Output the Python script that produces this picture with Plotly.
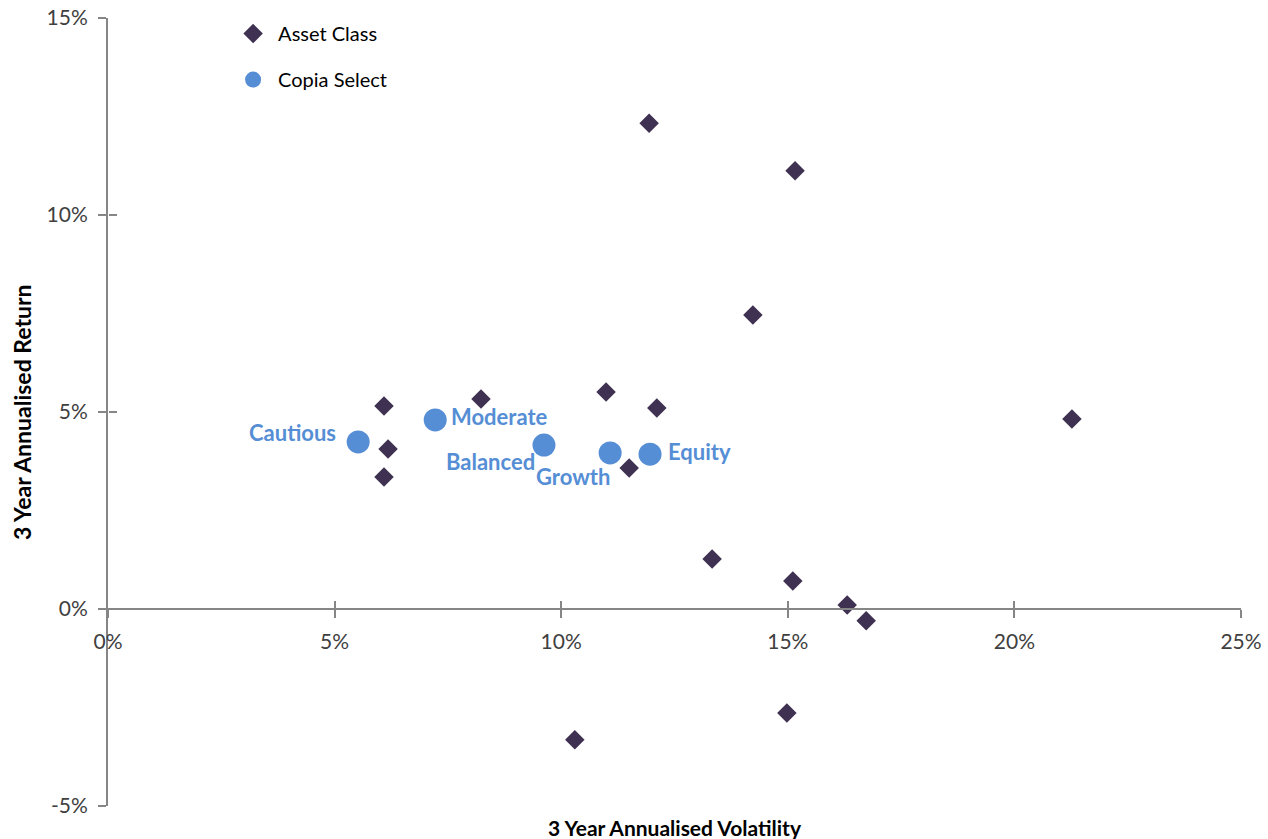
import plotly.graph_objects as go

# Asset class points (volatility %, return %)
asset_vol = [11.94, 15.16, 14.23, 6.09, 8.23, 10.99, 12.11, 6.18, 6.09, 11.50, 21.27, 13.33, 15.11, 16.31, 16.73, 14.98, 10.30]
asset_ret = [12.33, 11.12, 7.46, 5.15, 5.33, 5.51, 5.10, 4.06, 3.35, 3.58, 4.82, 1.27, 0.71, 0.10, -0.30, -2.64, -3.32]

# Copia Select portfolios
copia_names = ["Cautious", "Moderate", "Balanced", "Growth", "Equity"]
copia_vol = [5.52, 7.22, 9.62, 11.08, 11.96]
copia_ret = [4.24, 4.80, 4.16, 3.96, 3.93]

x_ticks = [0, 5, 10, 15, 20, 25]
y_ticks = [-5, 0, 5, 10, 15]

# label placement (style)
label_anchor = ["right", "left", "right", "right", "left"]
label_dx = [-20, 14, -7, 2, 16]
label_dy = [9, 3, -16, -24, 3]

FONT = "Lato"
AXIS_COL = "#868686"
DIAMOND = "#3F3151"
CIRCLE = "#558ED5"

fig = go.Figure()
fig.add_trace(go.Scatter(
    x=[v / 100 for v in asset_vol], y=[v / 100 for v in asset_ret],
    mode="markers", name="Asset Class", legendgroup="a",
    marker=dict(symbol="diamond", size=15, color=DIAMOND),
))
fig.add_trace(go.Scatter(
    x=[v / 100 for v in copia_vol], y=[v / 100 for v in copia_ret],
    mode="markers", name="Copia Select", legendgroup="b",
    marker=dict(symbol="circle", size=23, color=CIRCLE),
))
# invisible trace to activate overlay axes (for crossing tick marks)
fig.add_trace(go.Scatter(x=[0.001], y=[0.001], xaxis="x2", yaxis="y2", mode="markers",
                         marker=dict(opacity=0), showlegend=False, hoverinfo="skip"))

for n, vx, vy, a, dx, dy in zip(copia_names, copia_vol, copia_ret, label_anchor, label_dx, label_dy):
    fig.add_annotation(x=vx / 100, y=vy / 100, text="<b>%s</b>" % n, showarrow=False,
                       xanchor=a, yanchor="middle", xshift=dx, yshift=dy,
                       font=dict(family=FONT, size=22, color=CIRCLE))

tick_font = dict(family=FONT, size=21, color="#404040")
xr = [0, 0.25]
yr = [-0.05, 0.15]
fig.update_layout(
    width=1268, height=839,
    margin=dict(l=108, r=27, t=18, b=33, autoexpand=False),
    paper_bgcolor="white", plot_bgcolor="white",
    showlegend=True,
    legend=dict(x=0.106, y=1.005, xanchor="left", yanchor="top",
                font=dict(family=FONT, size=20, color="#000000"),
                tracegroupgap=17, bgcolor="rgba(0,0,0,0)", itemwidth=40),
    xaxis=dict(range=xr, tickvals=[v / 100 for v in x_ticks],
               ticktext=["%d%%" % v for v in x_ticks],
               anchor="free", position=0.25, automargin=False,
               showline=True, linecolor=AXIS_COL, linewidth=2,
               ticks="outside", ticklen=8, tickwidth=2, tickcolor=AXIS_COL,
               ticklabelstandoff=6,
               showgrid=False, zeroline=False, tickfont=tick_font),
    yaxis=dict(range=yr, tickvals=[v / 100 for v in y_ticks],
               ticktext=["%d%%" % v for v in y_ticks], automargin=False,
               showline=True, linecolor=AXIS_COL, linewidth=2,
               ticks="outside", ticklen=8, tickwidth=2, tickcolor=AXIS_COL,
               ticklabelstandoff=6,
               showgrid=False, zeroline=False, tickfont=tick_font),
    xaxis2=dict(range=xr, tickvals=[v / 100 for v in x_ticks], overlaying="x",
                anchor="free", position=0.25, showticklabels=False, automargin=False,
                ticks="inside", ticklen=8, tickwidth=2, tickcolor=AXIS_COL,
                showgrid=False, zeroline=False, showline=False),
    yaxis2=dict(range=yr, tickvals=[v / 100 for v in y_ticks], overlaying="y",
                anchor="free", position=0, side="left", showticklabels=False, automargin=False,
                ticks="inside", ticklen=8, tickwidth=2, tickcolor=AXIS_COL,
                showgrid=False, zeroline=False, showline=False),
)
fig.add_annotation(x=0.5, y=0, xref="paper", yref="paper", xanchor="center", yanchor="top",
                   yshift=-7, showarrow=False, text="<b>3 Year Annualised Volatility</b>",
                   font=dict(family=FONT, size=21, color="#000000"))
fig.add_annotation(x=0, y=0.5, xref="paper", yref="paper", xanchor="center", yanchor="middle",
                   xshift=-86, textangle=-90, showarrow=False, text="<b>3 Year Annualised Return</b>",
                   font=dict(family=FONT, size=23, color="#000000"))

fig.write_html("out.html", config={"displayModeBar": False},
               post_script="document.body.style.margin='0';document.body.style.overflow='hidden';")
